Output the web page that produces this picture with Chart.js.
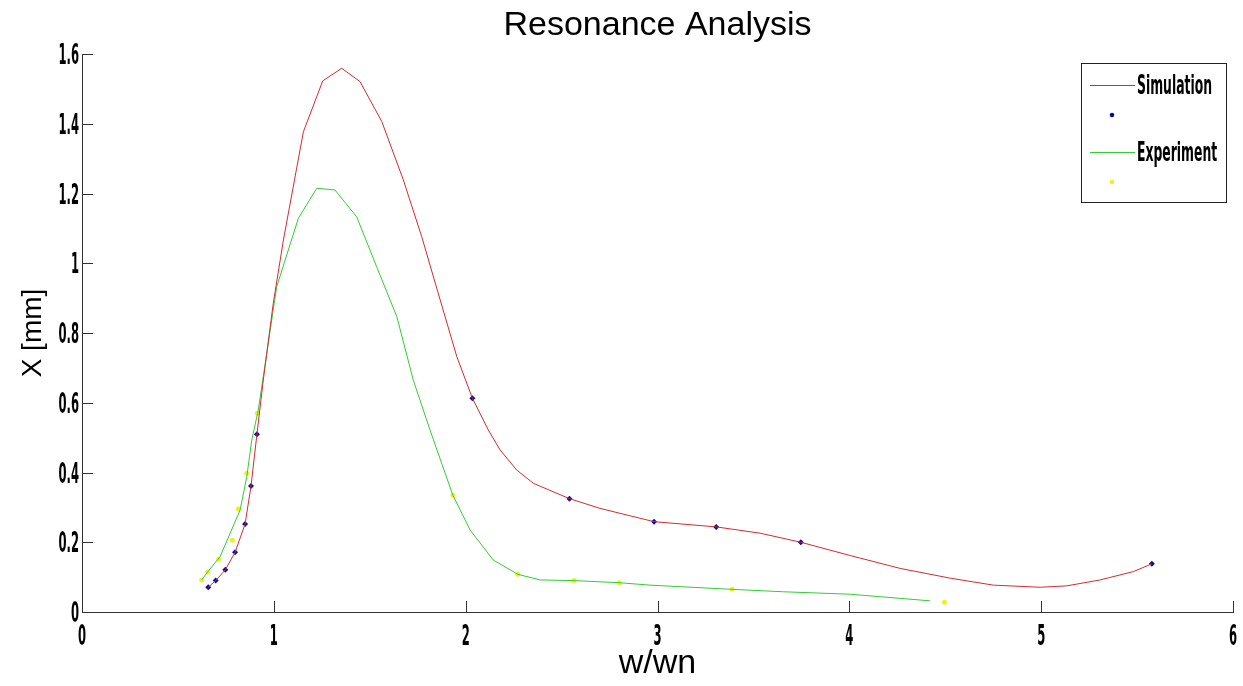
<!DOCTYPE html>
<html>
<head>
<meta charset="utf-8">
<script src="https://cdn.jsdelivr.net/npm/chart.js@4.4.1/dist/chart.umd.min.js"></script>
<style>
html,body{margin:0;padding:0;background:#fff;}
#wrap{width:1243px;height:686px;position:relative;}
</style>
</head>
<body>
<div id="wrap"><canvas id="c" width="1243" height="686"></canvas></div>
<script>
// ---- text ----
const chartTitle = 'Resonance Analysis';
const xAxisTitle = 'w/wn';
const yAxisTitle = 'X [mm]';
const legendLabels = ['Simulation', '', 'Experiment', ''];

// ---- ticks ----
const xTickValues = [0, 1, 2, 3, 4, 5, 6];
const yTickValues = [0, 0.2, 0.4, 0.6, 0.8, 1, 1.2, 1.4, 1.6];

// ---- Simulation (red curve) ----
const simLineX = [0.658, 0.697, 0.747, 0.798, 0.850, 0.881, 0.912, 0.945, 0.997, 1.050, 1.154, 1.255, 1.354, 1.449, 1.563, 1.675, 1.771, 1.867, 1.954, 2.035, 2.118, 2.179, 2.266, 2.353, 2.541, 2.701, 2.982, 3.306, 3.535, 3.747, 4.004, 4.265, 4.526, 4.751, 4.995, 5.134, 5.308, 5.481, 5.577];
const simLineY = [0.071, 0.090, 0.121, 0.171, 0.252, 0.361, 0.510, 0.665, 0.885, 1.067, 1.377, 1.523, 1.559, 1.521, 1.406, 1.239, 1.076, 0.895, 0.732, 0.613, 0.522, 0.465, 0.407, 0.369, 0.325, 0.297, 0.259, 0.244, 0.226, 0.200, 0.162, 0.125, 0.097, 0.077, 0.071, 0.075, 0.092, 0.116, 0.138];

// ---- Simulation points (blue) ----
const simDotX = [0.658, 0.697, 0.747, 0.798, 0.850, 0.881, 0.912, 2.035, 2.541, 2.982, 3.306, 3.747, 5.577];
const simDotY = [0.071, 0.090, 0.121, 0.171, 0.252, 0.361, 0.510, 0.613, 0.325, 0.259, 0.244, 0.200, 0.138];

// ---- Experiment (green curve) ----
const expLineX = [0.624, 0.655, 0.720, 0.824, 0.859, 0.885, 0.919, 1.015, 1.128, 1.224, 1.319, 1.432, 1.536, 1.641, 1.727, 1.814, 1.933, 2.023, 2.144, 2.272, 2.388, 2.564, 2.801, 2.961, 3.389, 3.656, 4.004, 4.421];
const expLineY = [0.092, 0.115, 0.159, 0.292, 0.388, 0.493, 0.579, 0.933, 1.129, 1.215, 1.210, 1.133, 0.990, 0.847, 0.665, 0.522, 0.335, 0.235, 0.149, 0.108, 0.092, 0.090, 0.084, 0.077, 0.065, 0.058, 0.051, 0.032];

// ---- Experiment points (yellow) ----
const expDotX = [0.624, 0.655, 0.713, 0.784, 0.815, 0.859, 0.914, 1.933, 2.272, 2.564, 2.801, 3.389, 4.496];
const expDotY = [0.092, 0.115, 0.152, 0.206, 0.295, 0.398, 0.570, 0.335, 0.108, 0.090, 0.084, 0.065, 0.028];

const zip = (xs, ys) => xs.map((x, i) => ({x: x, y: ys[i]}));

const condensedFont = "'DejaVu Sans Condensed','Liberation Sans Narrow','DejaVu Sans',sans-serif";
const plainFont = "'Liberation Sans',Arial,Helvetica,sans-serif";

function squeezedText(ctx, text, x, y, align, size, sx) {
  ctx.save();
  ctx.font = 'bold ' + size + 'px ' + condensedFont;
  ctx.fillStyle = '#000';
  ctx.textAlign = align;
  ctx.textBaseline = 'alphabetic';
  ctx.translate(x, y);
  ctx.scale(sx, 1);
  ctx.fillText(text, 0, 0);
  ctx.restore();
}

// inward tick marks and condensed tick labels, placed by the chart's scales
const axisDecor = {
  id: 'axisDecor',
  afterDatasetsDraw(chart) {
    const {ctx, chartArea: a, scales: {x, y}} = chart;
    ctx.save();
    ctx.strokeStyle = '#333';
    ctx.lineWidth = 1;
    ctx.beginPath();
    x.ticks.forEach(t => {
      const px = Math.round(x.getPixelForValue(t.value)) + 0.5;
      ctx.moveTo(px, a.bottom);
      ctx.lineTo(px, a.bottom - 11);
    });
    y.ticks.forEach(t => {
      const py = Math.round(y.getPixelForValue(t.value)) + 0.5;
      ctx.moveTo(a.left, py);
      ctx.lineTo(a.left + 11, py);
    });
    ctx.stroke();
    ctx.restore();
    const size = 28, sx = 0.46, half = size * 0.729 / 2;
    x.ticks.forEach(t => {
      squeezedText(ctx, String(t.value), x.getPixelForValue(t.value), a.bottom + 33, 'center', size, sx);
    });
    y.ticks.forEach(t => {
      squeezedText(ctx, String(Math.round(t.value * 10) / 10), a.left - 3, y.getPixelForValue(t.value) + half, 'right', size, sx);
    });
  }
};

// boxed legend in the top-right corner
const boxLegend = {
  id: 'boxLegend',
  afterDraw(chart) {
    const {ctx, chartArea: a} = chart;
    const w = 145, h = 139;
    const left = a.right - 152, top = a.top + 9;
    ctx.save();
    ctx.fillStyle = '#fff';
    ctx.fillRect(left, top, w, h);
    ctx.strokeStyle = '#222';
    ctx.lineWidth = 1;
    ctx.strokeRect(left + 0.5, top + 0.5, w, h);
    const rows = [22, 52, 89, 119];
    chart.data.datasets.forEach((ds, i) => {
      const cy = top + rows[i];
      if (ds.showLine) {
        ctx.strokeStyle = ds.borderColor;
        ctx.lineWidth = 1;
        ctx.beginPath();
        ctx.moveTo(left + 9, cy + 0.5);
        ctx.lineTo(left + 54, cy + 0.5);
        ctx.stroke();
      } else {
        ctx.fillStyle = ds.pointBackgroundColor;
        ctx.beginPath();
        ctx.arc(left + 31, cy, 2.3, 0, Math.PI * 2);
        ctx.fill();
      }
      if (legendLabels[i]) {
        squeezedText(ctx, legendLabels[i], left + 56, cy + 9, 'left', 26, 0.53);
      }
    });
    ctx.restore();
  }
};

new Chart(document.getElementById('c'), {
  type: 'scatter',
  data: {
    datasets: [
      {label: legendLabels[0], data: zip(simLineX, simLineY), showLine: true, borderColor: '#d42a33', borderWidth: 1, pointRadius: 0, tension: 0, fill: false},
      {label: legendLabels[1], data: zip(simDotX, simDotY), showLine: false, pointRadius: 3, pointBackgroundColor: '#0c0c9a', pointBorderColor: '#0c0c9a', pointBorderWidth: 0, pointStyle: 'rectRot'},
      {label: legendLabels[2], data: zip(expLineX, expLineY), showLine: true, borderColor: '#33cc33', borderWidth: 1, pointRadius: 0, tension: 0, fill: false},
      {label: legendLabels[3], data: zip(expDotX, expDotY), showLine: false, pointRadius: 2.5, pointBackgroundColor: '#f0f020', pointBorderColor: '#f0f020', pointBorderWidth: 0}
    ]
  },
  options: {
    responsive: false,
    animation: false,
    devicePixelRatio: 1,
    layout: {padding: {left: 0, right: 10, top: 0, bottom: 0}},
    plugins: {
      legend: {display: false},
      tooltip: {enabled: false},
      title: {
        display: true,
        text: chartTitle,
        fullSize: false,
        color: '#000',
        font: {family: plainFont, size: 34, weight: 'normal', lineHeight: 1.2},
        padding: {top: 5, bottom: 8.2}
      }
    },
    scales: {
      x: {
        type: 'linear',
        position: 'bottom',
        min: 0, max: 6,
        afterBuildTicks: s => { s.ticks = xTickValues.map(v => ({value: v})); },
        afterFit: s => { s.height = 74; },
        grid: {display: false, drawTicks: false},
        border: {display: true, color: '#333', width: 1},
        ticks: {display: false},
        title: {
          display: true,
          text: xAxisTitle,
          color: '#000',
          font: {family: plainFont, size: 34, weight: 'normal', lineHeight: 1.2},
          padding: {top: 0, bottom: 2.2}
        }
      },
      y: {
        type: 'linear',
        position: 'left',
        min: 0, max: 1.6,
        afterBuildTicks: s => { s.ticks = yTickValues.map(v => ({value: v})); },
        afterFit: s => { s.width = 82; },
        grid: {display: false, drawTicks: false},
        border: {display: true, color: '#333', width: 1},
        ticks: {display: false},
        title: {
          display: true,
          text: yAxisTitle,
          color: '#000',
          font: {family: plainFont, size: 28, weight: 'normal', lineHeight: 1.2},
          padding: {top: 16, bottom: 0}
        }
      }
    }
  },
  plugins: [axisDecor, boxLegend]
});
</script>
</body>
</html>
